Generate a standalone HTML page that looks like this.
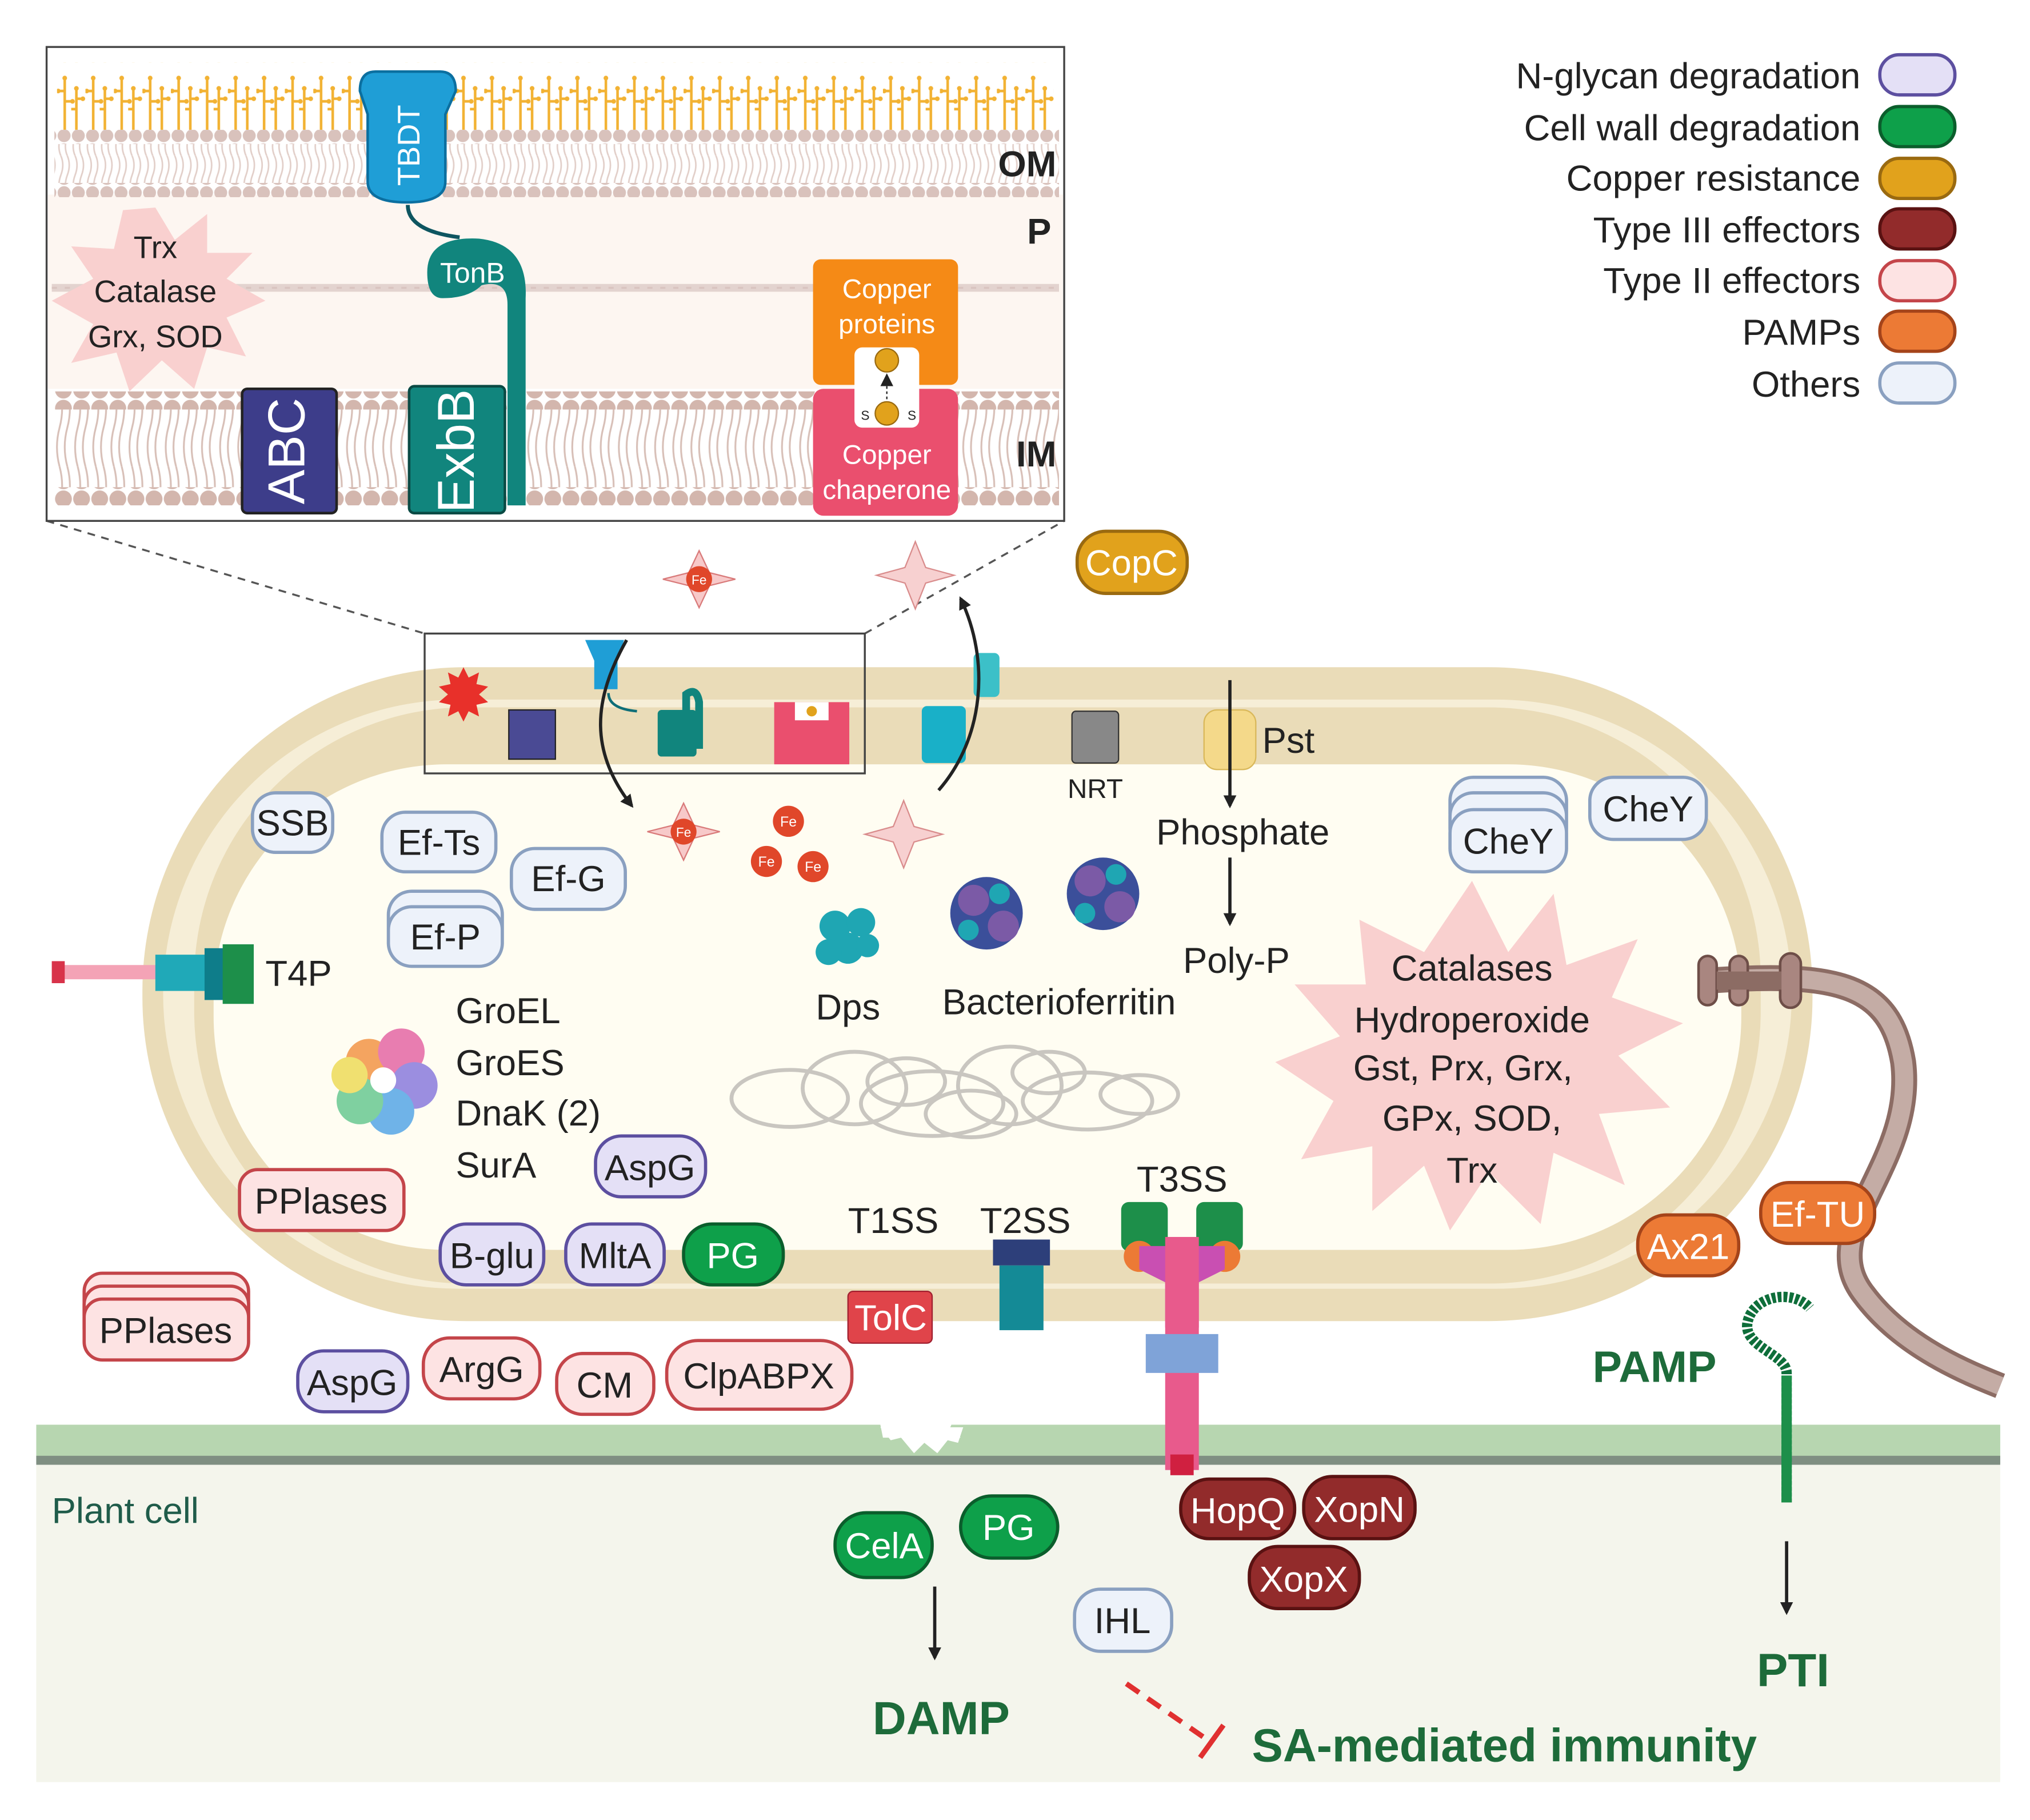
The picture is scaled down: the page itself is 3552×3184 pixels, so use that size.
<!DOCTYPE html>
<html><head><meta charset="utf-8"><style>
html,body{margin:0;padding:0;background:#fff}
svg{display:block}
text{font-family:"Liberation Sans",Arial,sans-serif}
</style></head><body>
<svg width="3552" height="3184" viewBox="0 0 1568 1405" xmlns="http://www.w3.org/2000/svg">
<defs>
<pattern id="lps" x="44" y="48" width="22" height="52" patternUnits="userSpaceOnUse">
<path d="M6 52 V12 M6 30 h6 M6 22 h-5 M15 52 V20 M15 28 h5 M15 36 h-4" stroke="#f2b233" stroke-width="2" fill="none"/>
<circle cx="6" cy="12" r="1.8" fill="#f2b233"/><circle cx="12" cy="30" r="1.8" fill="#f2b233"/><circle cx="1" cy="22" r="1.8" fill="#f2b233"/><circle cx="20" cy="28" r="1.8" fill="#f2b233"/><circle cx="15" cy="20" r="1.8" fill="#f2b233"/>
</pattern>
<pattern id="heads" x="0" y="0" width="11" height="11" patternUnits="userSpaceOnUse"><circle cx="5.5" cy="5.5" r="5" fill="#d9c2bc"/></pattern>
<pattern id="heads2" x="0" y="0" width="14" height="14" patternUnits="userSpaceOnUse"><circle cx="7" cy="7" r="6.5" fill="#d3b6ad"/></pattern>
<pattern id="tails" x="0" y="0" width="11" height="30" patternUnits="userSpaceOnUse"><path d="M3 0 q3 7 0 15 q-3 8 0 15 M8 0 q3 7 0 15 q-3 8 0 15" stroke="#e2cfc9" fill="none" stroke-width="1.2"/></pattern>
<pattern id="tails2" x="0" y="0" width="14" height="60" patternUnits="userSpaceOnUse"><path d="M4 0 q4 15 0 30 q-4 15 0 30 M10 0 q4 15 0 30 q-4 15 0 30" stroke="#d8c0b8" fill="none" stroke-width="1.4"/></pattern>
<marker id="ah" markerWidth="10" markerHeight="10" refX="8" refY="5" orient="auto" markerUnits="userSpaceOnUse"><path d="M0 0 L10 5 L0 10 z" fill="#222"/></marker>
</defs>

<rect x="28" y="1100" width="1517" height="30" fill="#b7d6b0"/>
<rect x="28" y="1124" width="1517" height="7" fill="#7f8f82"/>
<rect x="28" y="1131" width="1517" height="245" fill="#f4f5ec"/>
<text x="40" y="1176" font-size="28" fill="#1f5c4a">Plant cell</text>
<path d="M680 1100 l10 -12 l8 10 l8 -14 l8 14 l8 -12 l8 10 l10 -8 l-6 14 l8 8 l-60 0 z" fill="#fff"/>
<path d="M680 1102 l8 10 l8 -2 l10 12 l8 -8 l10 8 l8 -10 l8 2 l4 -12z" fill="#fff"/>

<rect x="110" y="515" width="1290" height="505" rx="250" fill="#eadcb8"/>
<rect x="126" y="540" width="1258" height="455" rx="228" fill="#f6eed7"/>
<rect x="150" y="546" width="1210" height="445" rx="210" fill="#eadcb8"/>
<rect x="165" y="590" width="1180" height="375" rx="180" fill="#fffdf2"/>

<rect x="44" y="745" width="80" height="11" fill="#f4a3b6"/>
<rect x="40" y="742" width="10" height="17" fill="#d8334a"/>
<rect x="120" y="737" width="40" height="28" fill="#20a9b8"/>
<rect x="158" y="732" width="16" height="40" fill="#0e7d8a"/>
<rect x="172" y="729" width="24" height="46" fill="#1d8f4a"/>
<text x="205" y="761" font-size="28" fill="#222">T4P</text>

<path d="M1320 757 C1420 750 1460 760 1470 820 C1480 900 1400 950 1440 1000 C1470 1040 1520 1060 1545 1070" stroke="#8c6c64" stroke-width="20" fill="none"/>
<path d="M1320 757 C1420 750 1460 760 1470 820 C1480 900 1400 950 1440 1000 C1470 1040 1520 1060 1545 1070" stroke="#c4aca5" stroke-width="14" fill="none"/>
<g fill="#a98680" stroke="#6e4e48" stroke-width="2"><rect x="1312" y="738" width="14" height="38" rx="7"/><rect x="1336" y="738" width="14" height="38" rx="7"/><rect x="1375" y="736" width="16" height="42" rx="8"/></g>
<rect x="1326" y="750" width="50" height="14" fill="#8c6c64"/>

<path d="M36 402 L328 489 M668 489 L822 402" stroke="#555" stroke-dasharray="6,5" stroke-width="1.5"/>
<rect x="328" y="489" width="340" height="108" fill="none" stroke="#444" stroke-width="1.5"/>
<path d="M358 515 l4 8 8 -4 -2 9 9 2 -7 6 7 6 -9 2 2 9 -8-4 -4 8 -4-8 -8 4 2-9 -9-2 7-6 -7-6 9-2 -2-9 8 4z" fill="#e8302a"/>
<rect x="393" y="548" width="36" height="38" fill="#4a4a94" stroke="#222"/>
<path d="M452 494 h30 l-5 16 v22 h-18 v-22 z" fill="#1f9ed6"/>
<path d="M470 535 q0 12 22 14" stroke="#0e6e78" stroke-width="2" fill="none"/>
<rect x="508" y="548" width="30" height="36" rx="3" fill="#11857d"/>
<path d="M530 548 v-12 q8 -6 10 6 v36" stroke="#11857d" stroke-width="6" fill="none"/>
<path d="M598 542 h58 v48 h-58 z" fill="#ea4f6e"/><rect x="614" y="542" width="26" height="14" fill="#fff"/>
<circle cx="627" cy="549" r="4" fill="#e1a21c"/>
<rect x="712" y="545" width="34" height="44" rx="4" fill="#19b0c8"/>
<rect x="752" y="504" width="20" height="34" rx="4" fill="#3cc0c8"/>
<rect x="828" y="549" width="36" height="40" rx="3" fill="#888" stroke="#333"/>
<text x="846" y="616" font-size="21" text-anchor="middle" fill="#222">NRT</text>
<rect x="930" y="548" width="40" height="46" rx="10" fill="#f4d98a" stroke="#d9b85a"/>
<text x="975" y="581" font-size="28" fill="#222">Pst</text>

<path d="M484 494 C458 540 455 580 488 622" stroke="#222" stroke-width="2.5" fill="none" marker-end="url(#ah)"/>
<path d="M725 610 C760 570 765 510 742 462" stroke="#222" stroke-width="2.5" fill="none" marker-end="url(#ah)"/>

<g>
<path d="M540 425 l8 17 20 5 -20 5 -8 17 -8 -17 -20 -5 20 -5z" fill="#f7c9c9" stroke="#d97a7a"/>
<circle cx="540" cy="447" r="10" fill="#e0472a"/><text x="540" y="451" font-size="10" fill="#fff" text-anchor="middle">Fe</text>
<path d="M707 418 l8 20 22 6 -22 6 -8 20 -8 -20 -22 -6 22 -6z" fill="#f7d0d0" stroke="#d98c8c"/>
<path d="M528 620 l8 17 20 5 -20 5 -8 17 -8 -17 -20 -5 20 -5z" fill="#f7c9c9" stroke="#d97a7a"/>
<circle cx="528" cy="642" r="10" fill="#e0472a"/><text x="528" y="646" font-size="10" fill="#fff" text-anchor="middle">Fe</text>
<path d="M698 618 l8 20 22 6 -22 6 -8 20 -8 -20 -22 -6 22 -6z" fill="#f7d0d0" stroke="#d98c8c"/>
<g fill="#e0472a"><circle cx="609" cy="634" r="12"/><circle cx="592" cy="665" r="12"/><circle cx="628" cy="669" r="12"/></g>
<g font-size="11" fill="#fff" text-anchor="middle"><text x="609" y="638">Fe</text><text x="592" y="669">Fe</text><text x="628" y="673">Fe</text></g>
</g>

<path d="M950 525 V622" stroke="#222" stroke-width="2.5" marker-end="url(#ah)"/>
<text x="960" y="652" font-size="28" text-anchor="middle" fill="#222">Phosphate</text>
<path d="M950 662 V713" stroke="#222" stroke-width="2.5" marker-end="url(#ah)"/>
<text x="955" y="751" font-size="28" text-anchor="middle" fill="#222">Poly-P</text>

<g fill="#1fa6b3"><circle cx="645" cy="715" r="12"/><circle cx="665" cy="712" r="11"/><circle cx="655" cy="732" r="12"/><circle cx="640" cy="735" r="10"/><circle cx="670" cy="730" r="9"/></g>
<text x="655" y="787" font-size="28" text-anchor="middle" fill="#222">Dps</text>
<g fill="#3b4f9a"><circle cx="762" cy="705" r="28"/><circle cx="852" cy="690" r="28"/></g>
<g fill="#7b5aa6"><circle cx="752" cy="695" r="12"/><circle cx="775" cy="715" r="12"/><circle cx="842" cy="680" r="12"/><circle cx="865" cy="700" r="12"/></g>
<g fill="#1fa6b3"><circle cx="772" cy="690" r="8"/><circle cx="748" cy="718" r="8"/><circle cx="862" cy="675" r="8"/><circle cx="838" cy="705" r="8"/></g>
<text x="818" y="783" font-size="28" text-anchor="middle" fill="#222">Bacterioferritin</text>

<g fill="none" stroke="#c9c6c0" stroke-width="3">
<ellipse cx="610" cy="848" rx="45" ry="22"/><ellipse cx="660" cy="840" rx="40" ry="28"/><ellipse cx="720" cy="852" rx="55" ry="25"/>
<ellipse cx="780" cy="838" rx="40" ry="30"/><ellipse cx="840" cy="850" rx="50" ry="22"/><ellipse cx="880" cy="845" rx="30" ry="15"/>
<ellipse cx="700" cy="835" rx="30" ry="18"/><ellipse cx="750" cy="860" rx="35" ry="18"/><ellipse cx="810" cy="828" rx="28" ry="16"/>
</g>

<g>
<circle cx="285" cy="820" r="18" fill="#f4a460"/><circle cx="310" cy="812" r="18" fill="#e87db0"/><circle cx="320" cy="838" r="18" fill="#9b8ee0"/>
<circle cx="302" cy="858" r="18" fill="#6fb3e8"/><circle cx="278" cy="850" r="18" fill="#7fd0a0"/><circle cx="270" cy="830" r="14" fill="#f0e070"/>
<circle cx="296" cy="834" r="10" fill="#fff"/>
</g>
<g font-size="28" fill="#222"><text x="352" y="790">GroEL</text><text x="352" y="830">GroES</text><text x="352" y="869">DnaK (2)</text><text x="352" y="909">SurA</text></g>

<path d="M1137 680 L1165 735 L1200 690 L1210 745 L1265 725 L1245 770 L1300 790 L1250 815 L1290 855 L1235 860 L1255 915 L1200 890 L1190 945 L1150 905 L1120 950 L1100 900 L1060 935 L1060 885 L1005 895 L1030 850 L985 820 L1035 800 L1000 760 L1055 760 L1050 710 L1100 735 z" fill="#f9d0cf"/>
<g font-size="28" fill="#222" text-anchor="middle"><text x="1137" y="757">Catalases</text><text x="1137" y="797">Hydroperoxide</text><text x="1130" y="834">Gst, Prx, Grx,</text><text x="1137" y="873">GPx, SOD,</text><text x="1137" y="913">Trx</text></g>

<g font-size="28" fill="#222" text-anchor="middle"><text x="690" y="952">T1SS</text><text x="792" y="952">T2SS</text><text x="913" y="920">T3SS</text></g>
<rect x="767" y="957" width="44" height="20" fill="#2d3f7a"/><rect x="772" y="977" width="34" height="50" fill="#148a96"/>
<rect x="655" y="997" width="65" height="40" rx="4" fill="#e0444a" stroke="#a02030"/>
<text x="688" y="1027" font-size="28" fill="#fff" text-anchor="middle">TolC</text>
<g>
<rect x="866" y="928" width="36" height="38" rx="6" fill="#1d8f4a"/><rect x="924" y="928" width="36" height="38" rx="6" fill="#1d8f4a"/>
<circle cx="880" cy="970" r="12" fill="#ec7a35"/><circle cx="946" cy="970" r="12" fill="#ec7a35"/>
<path d="M880 962 h66 v18 l-20 10 v35 h-26 v-35 l-20 -10z" fill="#c94fb2"/>
<rect x="900" y="955" width="26" height="180" fill="#e85a8c"/>
<path d="M885 1030 h56 v30 h-56z" fill="#7fa3d8"/>
<rect x="904" y="1123" width="18" height="16" fill="#d02040"/>
</g>

<path d="M1380 1160 V1060 C1380 1045 1345 1040 1350 1020 C1355 1000 1385 995 1398 1010" stroke="#0e6e3a" stroke-width="8" fill="none" stroke-dasharray="3,1.5"/>
<path d="M1380 1160 V1062" stroke="#1d8f4a" stroke-width="8"/>
<text x="1278" y="1067" font-size="34" font-weight="bold" fill="#1d6b3a" text-anchor="middle">PAMP</text>
<path d="M1380 1190 V1245" stroke="#222" stroke-width="2.5" marker-end="url(#ah)"/>
<text x="1385" y="1302" font-size="36" font-weight="bold" fill="#1d6b3a" text-anchor="middle">PTI</text>
<path d="M722 1225 V1280" stroke="#222" stroke-width="2.5" marker-end="url(#ah)"/>
<text x="727" y="1339" font-size="36" font-weight="bold" fill="#1d6b3a" text-anchor="middle">DAMP</text>
<path d="M870 1300 L935 1345" stroke="#e03030" stroke-width="4" stroke-dasharray="12,8"/>
<path d="M927 1357 L945 1332" stroke="#e03030" stroke-width="4"/>
<text x="1162" y="1360" font-size="36" font-weight="bold" fill="#1d6b3a" text-anchor="middle">SA-mediated immunity</text>

<g font-size="28" text-anchor="middle" stroke-width="2.5">
<g fill="#edf2fa" stroke="#8aa0c0">
<rect x="195" y="612" width="62" height="46" rx="18"/>
<rect x="295" y="627" width="88" height="46" rx="18"/>
<rect x="395" y="655" width="88" height="47" rx="18"/>
<rect x="300" y="688" width="88" height="46" rx="18"/><rect x="300" y="700" width="88" height="46" rx="18"/>
<rect x="1120" y="600" width="90" height="46" rx="18"/><rect x="1120" y="612" width="90" height="46" rx="18"/><rect x="1120" y="625" width="90" height="48" rx="18"/>
<rect x="1228" y="600" width="90" height="48" rx="18"/>
<rect x="830" y="1227" width="75" height="48" rx="20"/>
</g>
<g fill="#222" stroke="none">
<text x="226" y="645">SSB</text><text x="339" y="660">Ef-Ts</text><text x="439" y="688">Ef-G</text><text x="344" y="733">Ef-P</text>
<text x="1165" y="659">CheY</text><text x="1273" y="634">CheY</text><text x="867" y="1261">IHL</text>
</g>
<g fill="#e4e0f6" stroke="#5c4fa0">
<rect x="460" y="877" width="85" height="47" rx="20"/><rect x="340" y="945" width="80" height="47" rx="20"/>
<rect x="437" y="945" width="76" height="47" rx="20"/><rect x="230" y="1043" width="85" height="47" rx="20"/>
</g>
<g fill="#222" stroke="none"><text x="502" y="911">AspG</text><text x="380" y="979">B-glu</text><text x="475" y="979">MltA</text><text x="272" y="1077">AspG</text></g>
<g fill="#fde3e3" stroke="#c4454a">
<rect x="185" y="903" width="127" height="47" rx="14"/>
<rect x="65" y="983" width="127" height="47" rx="14"/><rect x="65" y="993" width="127" height="47" rx="14"/><rect x="65" y="1003" width="127" height="47" rx="14"/>
<rect x="327" y="1033" width="90" height="47" rx="20"/><rect x="430" y="1045" width="75" height="47" rx="20"/><rect x="515" y="1035" width="143" height="53" rx="24"/>
</g>
<g fill="#222" stroke="none"><text x="248" y="937">PPlases</text><text x="128" y="1037">PPlases</text><text x="372" y="1067">ArgG</text><text x="467" y="1079">CM</text><text x="586" y="1072">ClpABPX</text></g>
<g fill="#0ea04a" stroke="#0b5e2c">
<rect x="528" y="945" width="77" height="47" rx="22"/><rect x="645" y="1168" width="75" height="50" rx="24"/><rect x="742" y="1155" width="75" height="48" rx="24"/>
</g>
<g fill="#fff" stroke="none"><text x="566" y="979">PG</text><text x="683" y="1203">CelA</text><text x="779" y="1189">PG</text></g>
<g fill="#e1a21c" stroke="#9a6a10">
<rect x="462" y="248" width="86" height="46" rx="22"/><rect x="832" y="410" width="85" height="48" rx="22"/>
</g>
<rect x="540" y="160" width="84" height="45" rx="22" fill="#f4d6a4" stroke="#e6b870"/>
<g fill="#fff" stroke="none"><text x="505" y="282">CopB</text><text x="874" y="444">CopC</text><text x="582" y="193">CopC</text></g>
<g fill="#ec7a35" stroke="#a5441a"><rect x="1265" y="938" width="78" height="47" rx="22"/><rect x="1360" y="913" width="88" height="47" rx="22"/></g>
<g fill="#fff" stroke="none"><text x="1304" y="972">Ax21</text><text x="1404" y="947">Ef-TU</text></g>
<g fill="#922b2b" stroke="#5a1212"><rect x="912" y="1142" width="88" height="46" rx="22"/><rect x="1007" y="1140" width="86" height="48" rx="22"/><rect x="965" y="1194" width="85" height="48" rx="22"/></g>
<g fill="#fff" stroke="none"><text x="956" y="1176">HopQ</text><text x="1050" y="1175">XopN</text><text x="1007" y="1229">XopX</text></g>
</g>

<g font-size="28" fill="#222" text-anchor="end">
<text x="1437" y="68">N-glycan degradation</text><text x="1437" y="108">Cell wall degradation</text><text x="1437" y="147">Copper resistance</text>
<text x="1437" y="187">Type III effectors</text><text x="1437" y="226">Type II effectors</text><text x="1437" y="266">PAMPs</text><text x="1437" y="306">Others</text>
</g>
<g stroke-width="2.5">
<rect x="1452" y="42" width="58" height="31" rx="15" fill="#e4e0f6" stroke="#5c4fa0"/>
<rect x="1452" y="82" width="58" height="31" rx="15" fill="#0ea04a" stroke="#0b5e2c"/>
<rect x="1452" y="122" width="58" height="31" rx="15" fill="#e1a21c" stroke="#9a6a10"/>
<rect x="1452" y="161" width="58" height="31" rx="15" fill="#922b2b" stroke="#5a1212"/>
<rect x="1452" y="201" width="58" height="31" rx="15" fill="#fde3e3" stroke="#c4454a"/>
<rect x="1452" y="240" width="58" height="31" rx="15" fill="#ec7a35" stroke="#a5441a"/>
<rect x="1452" y="280" width="58" height="31" rx="15" fill="#edf2fa" stroke="#8aa0c0"/>
</g>

<g>
<rect x="36" y="36" width="786" height="366" fill="#fff" stroke="#444" stroke-width="1.5"/>
<rect x="37" y="150" width="784" height="150" fill="#fdf6f1"/>
<rect x="44" y="48" width="770" height="52" fill="url(#lps)"/>
<rect x="42" y="100" width="776" height="11" fill="url(#heads)"/>
<rect x="42" y="111" width="776" height="30" fill="url(#tails)"/>
<rect x="42" y="141" width="776" height="11" fill="url(#heads)"/>
<path d="M40 222 H818" stroke="#e3d3cf" stroke-width="6"/>
<path d="M40 222 H818" stroke="#d9c4c0" stroke-width="1.5" stroke-dasharray="4,6"/>
<rect x="42" y="302" width="776" height="14" fill="url(#heads2)"/>
<rect x="42" y="316" width="776" height="60" fill="url(#tails2)"/>
<rect x="42" y="376" width="776" height="14" fill="url(#heads2)"/>
<path d="M120 160 L135 185 L160 165 L160 195 L195 195 L175 215 L205 232 L175 245 L190 275 L160 268 L150 300 L125 278 L100 302 L90 272 L55 280 L72 250 L40 232 L72 215 L55 190 L88 192 L95 162 z" fill="#f9d0cf"/>
<g font-size="24" fill="#222" text-anchor="middle"><text x="120" y="199">Trx</text><text x="120" y="233">Catalase</text><text x="120" y="268">Grx, SOD</text></g>
<path d="M278 70 q0 -15 12 -15 h50 q12 0 12 15 l-8 18 v52 q0 16 -30 16 q-30 0 -30 -16 v-52 z" fill="#1f9ed6" stroke="#0b6fa0" stroke-width="2"/>
<text transform="translate(324 112) rotate(-90)" font-size="24" fill="#fff" text-anchor="middle">TBDT</text>
<path d="M315 158 q0 20 40 25" stroke="#0e5560" stroke-width="3" fill="none"/>
<path d="M330 210 q0 -28 40 -26 q38 4 36 46 v160 h-14 v-155 q0 -20 -20 -15 q-10 10 -30 10 q-12 0 -12 -20z" fill="#11857d"/>
<text x="365" y="218" font-size="22" fill="#fff" text-anchor="middle">TonB</text>
<rect x="187" y="300" width="73" height="96" rx="4" fill="#3d3d8a" stroke="#222" stroke-width="2"/>
<text transform="translate(235 348) rotate(-90)" font-size="40" fill="#fff" text-anchor="middle">ABC</text>
<rect x="316" y="298" width="74" height="98" rx="4" fill="#11857d" stroke="#0a4a44" stroke-width="2"/>
<text transform="translate(366 348) rotate(-90)" font-size="40" fill="#fff" text-anchor="middle">ExbB</text>
<rect x="628" y="200" width="112" height="97" rx="6" fill="#f58a16"/>
<rect x="628" y="300" width="112" height="98" rx="8" fill="#ea4f6e"/>
<rect x="660" y="268" width="50" height="62" rx="6" fill="#fff"/>
<circle cx="685" cy="278" r="9" fill="#e1a21c" stroke="#9a6a10"/><circle cx="685" cy="319" r="9" fill="#e1a21c" stroke="#9a6a10"/>
<path d="M685 308 V290" stroke="#222" stroke-dasharray="2,2" marker-end="url(#ah)"/>
<text x="665" y="324" font-size="10" fill="#222">S</text><text x="701" y="324" font-size="10" fill="#222">S</text>
<g font-size="21" fill="#fff" text-anchor="middle"><text x="685" y="230">Copper</text><text x="685" y="257">proteins</text><text x="685" y="358">Copper</text><text x="685" y="385">chaperone</text></g>
<g font-size="28" font-weight="bold" fill="#222" text-anchor="end"><text x="816" y="136">OM</text><text x="812" y="188">P</text><text x="816" y="360">IM</text></g>
</g>
</svg>
</body></html>
